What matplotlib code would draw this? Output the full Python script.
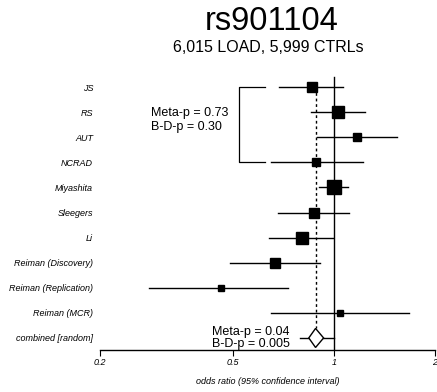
import numpy as np
import matplotlib.pyplot as plt

plt.rcParams['font.family'] = ['Liberation Sans', 'DejaVu Sans']

studies = ["JS", "RS", "AUT", "NCRAD", "Miyashita", "Sleegers", "Li",
           "Reiman (Discovery)", "Reiman (Replication)", "Reiman (MCR)"]
odds = [0.86, 1.03, 1.17, 0.88, 1.00, 0.87, 0.80, 0.667, 0.46, 1.04]
ci_low = [0.685, 0.85, 0.89, 0.65, 0.90, 0.68, 0.64, 0.49, 0.28, 0.65]
ci_high = [1.06, 1.24, 1.54, 1.22, 1.10, 1.11, 0.99, 0.91, 0.73, 1.67]
box_px = [10, 12, 9, 8, 14, 10, 12, 10, 7, 7]

comb_or = 0.88
comb_low = 0.84
comb_high = 0.93
comb_line = [0.79, 1.0]

ticks = [0.2, 0.5, 1, 2]
tick_labels = ["0.2", "0.5", "1", "2"]

fig = plt.figure(figsize=(4.37, 3.92), dpi=100)
ax = fig.add_axes([100 / 437, 1 - 350 / 392, 335 / 437, 280 / 392])
ax.set_xscale('log')
ax.set_xlim(0.2, 2)
nrow = len(studies) + 1
ax.set_ylim(10.48, -0.68)

for i in range(len(studies)):
    ax.plot([ci_low[i], ci_high[i]], [i, i], color='black', lw=1.0, zorder=2)
    ax.plot(odds[i], i, marker='s', color='black', ms=box_px[i] / 1.389,
            zorder=3)

# combined
r = len(studies)
ax.plot(comb_line, [r, r], color='black', lw=1.0, zorder=2)
ax.fill([comb_low, comb_or, comb_high, comb_or], [r, r - 0.38, r, r + 0.38],
        facecolor='white', edgecolor='black', lw=1.0, zorder=3)

# reference lines
ax.plot([1, 1], [-0.4, 10.48], color='black', lw=1.0, zorder=1)
ax.plot([comb_or, comb_or], [0, r - 0.38], color='black', lw=1.0,
        ls=(0, (2, 2)), zorder=1)

# bracket for first four studies
ax.plot([0.62, 0.52, 0.52, 0.62], [0, 0, 3, 3], color='black', lw=0.9)
ax.text(0.284, 1.3, "Meta-p = 0.73\nB-D-p = 0.30", fontsize=9,
        va='center', ha='left', linespacing=1.25)
ax.text(0.432, 10.0, "Meta-p = 0.04\nB-D-p = 0.005", fontsize=9,
        va='center', ha='left', linespacing=1.1)

ax.set_yticks(range(nrow))
ax.set_yticklabels(studies + ["combined [random]"], fontstyle='italic',
                   fontsize=6.5)
ax.tick_params(axis='y', length=0, pad=5)
ax.set_xticks(ticks)
ax.set_xticklabels(tick_labels, fontstyle='italic', fontsize=6.5)
ax.minorticks_off()
ax.tick_params(axis='x', length=4, width=0.8, pad=2)

for s in ['top', 'right', 'left']:
    ax.spines[s].set_visible(False)
ax.spines['bottom'].set_linewidth(1.0)

ax.set_xlabel("odds ratio (95% confidence interval)", fontstyle='italic',
              fontsize=6.5, labelpad=7)

fig.text(272 / 437, 1 - 22 / 392, "rs901104", fontsize=23.5, ha='center',
         va='center')
fig.text(268 / 437, 1 - 48 / 392, "6,015 LOAD, 5,999 CTRLs", fontsize=11.5,
         ha='center', va='center')

fig.savefig("out.png", dpi=100)
